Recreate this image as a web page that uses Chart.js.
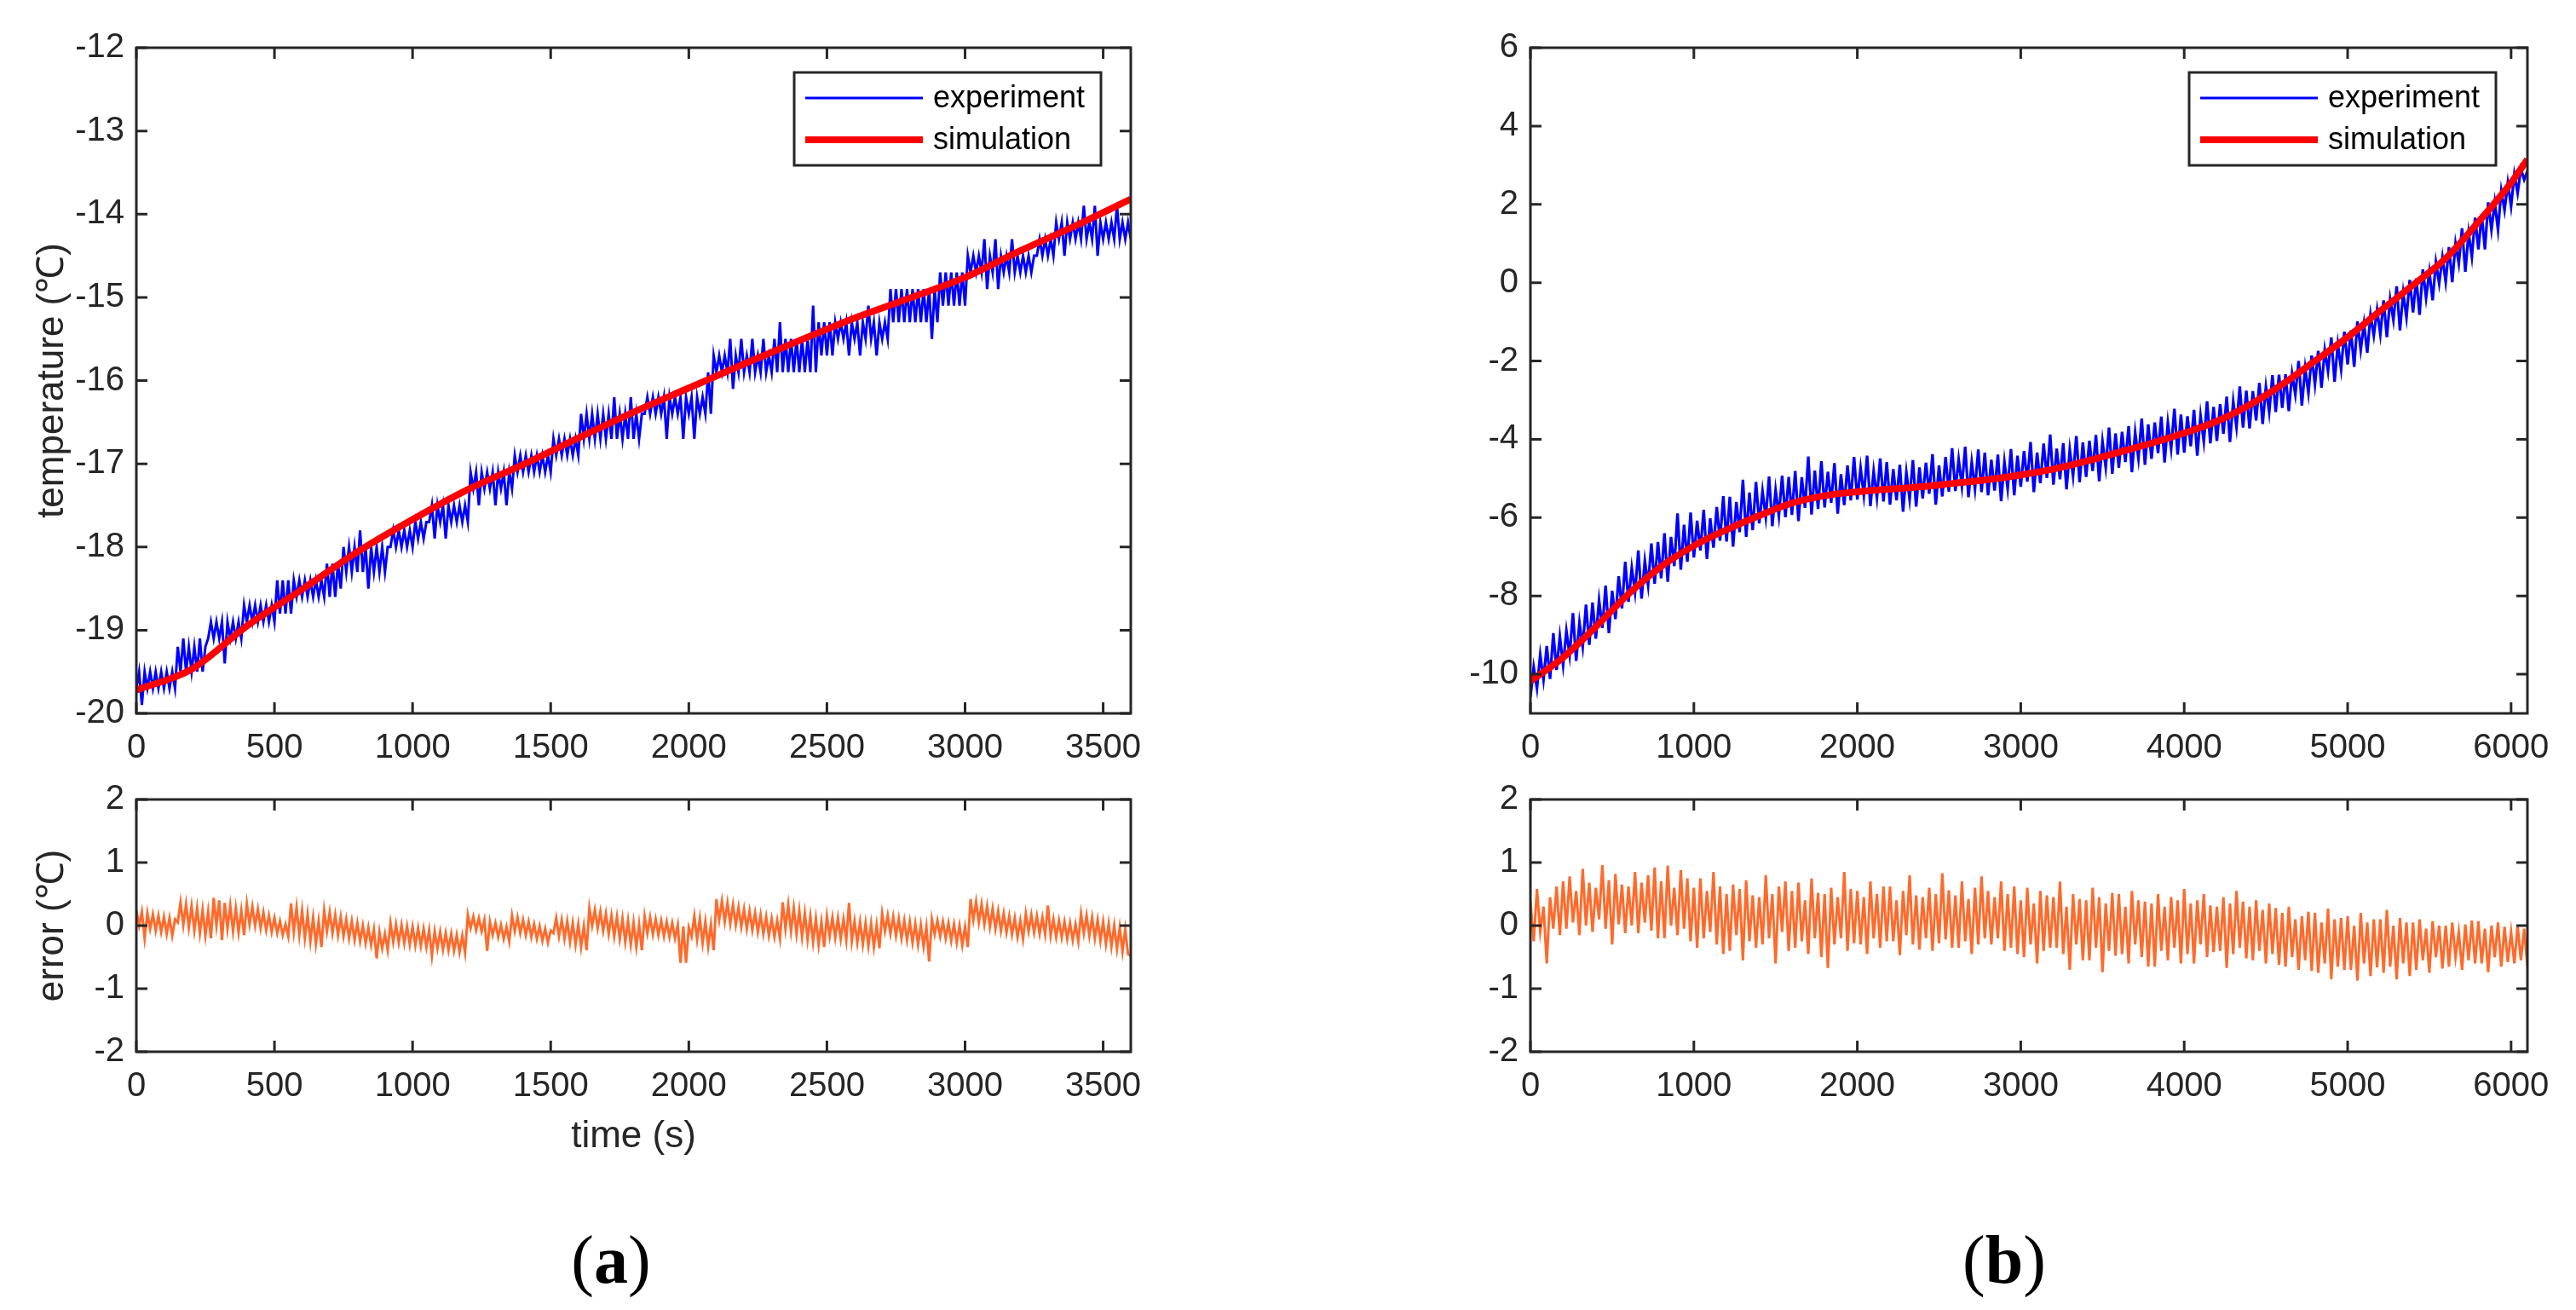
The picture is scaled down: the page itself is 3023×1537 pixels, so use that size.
<!DOCTYPE html>
<html>
<head>
<meta charset="utf-8">
<script src="https://cdn.jsdelivr.net/npm/chart.js@4.4.1/dist/chart.umd.min.js"></script>
<style>
html,body{margin:0;padding:0;background:#fff;}
body{width:3023px;height:1537px;position:relative;overflow:hidden;}
canvas{position:absolute;display:block;}
.cap{position:absolute;width:200px;text-align:center;font-family:"Liberation Serif","Times New Roman",serif;font-size:80px;line-height:1;color:#000;}
</style>
</head>
<body>
<canvas id="aTop"></canvas>
<canvas id="aBot"></canvas>
<canvas id="bTop"></canvas>
<canvas id="bBot"></canvas>
<div class="cap" style="left:617px;top:1438px;">(<b>a</b>)</div>
<div class="cap" style="left:2252px;top:1438px;">(<b>b</b>)</div>
<script>
// ---------------- data ----------------
const xTicksA = [0, 500, 1000, 1500, 2000, 2500, 3000, 3500];
const xTicksB = [0, 1000, 2000, 3000, 4000, 5000, 6000];
const yTicksTempA = [-20, -19, -18, -17, -16, -15, -14, -13, -12];
const yTicksTempB = [-10, -8, -6, -4, -2, 0, 2, 4, 6];
const yTicksErr = [-2, -1, 0, 1, 2];
const seriesNames = ['experiment', 'simulation'];

// (a) experiment, one sample every 10 s, 0..3600 s
const stepExpA = 10;
const expA = [
 -19.7,-19.5,-19.9,-19.5,-19.7,-19.5,-19.7,-19.5,-19.7,-19.5,-19.7,-19.5,-19.7,-19.5,-19.7,-19.2,-19.5,-19.1,-19.5,-19.2,
 -19.5,-19.2,-19.5,-19.1,-19.5,-19.2,-19.1,-18.9,-19.1,-18.9,-19.1,-18.9,-19.4,-18.9,-19.1,-18.9,-19.1,-18.9,-19.1,-18.7,
 -18.9,-18.7,-18.9,-18.7,-18.9,-18.7,-18.9,-18.7,-18.9,-18.7,-18.9,-18.4,-18.8,-18.4,-18.8,-18.4,-18.8,-18.4,-18.6,-18.4,
 -18.6,-18.4,-18.6,-18.4,-18.6,-18.4,-18.6,-18.4,-18.6,-18.2,-18.6,-18.2,-18.6,-18.2,-18.5,-18.0,-18.3,-18.0,-18.3,-18.0,
 -18.3,-17.8,-18.3,-18.0,-18.5,-18.0,-18.3,-18.0,-18.3,-18.0,-18.3,-18.0,-18.0,-17.8,-18.0,-17.8,-18.0,-17.8,-18.0,-17.8,
 -18.0,-17.7,-17.9,-17.7,-17.9,-17.7,-17.7,-17.5,-17.9,-17.5,-17.7,-17.5,-17.9,-17.5,-17.7,-17.5,-17.7,-17.5,-17.7,-17.5,
 -17.7,-17.1,-17.3,-17.1,-17.5,-17.1,-17.3,-17.1,-17.3,-17.1,-17.5,-17.1,-17.3,-17.1,-17.5,-17.1,-17.3,-16.9,-17.1,-16.9,
 -17.1,-16.9,-17.1,-16.9,-17.1,-16.9,-17.1,-16.9,-17.1,-16.9,-17.1,-16.7,-16.9,-16.7,-16.9,-16.7,-16.9,-16.7,-16.9,-16.7,
 -16.9,-16.4,-16.7,-16.4,-16.7,-16.4,-16.7,-16.4,-16.7,-16.4,-16.7,-16.4,-16.7,-16.2,-16.7,-16.4,-16.7,-16.4,-16.7,-16.2,
 -16.7,-16.4,-16.7,-16.4,-16.4,-16.2,-16.4,-16.2,-16.4,-16.2,-16.4,-16.2,-16.7,-16.2,-16.4,-16.2,-16.4,-16.2,-16.7,-16.2,
 -16.4,-16.2,-16.7,-16.2,-16.4,-16.2,-16.4,-15.9,-16.4,-15.7,-15.9,-15.7,-15.9,-15.7,-15.9,-15.5,-16.1,-15.7,-15.9,-15.5,
 -15.9,-15.7,-15.9,-15.5,-15.9,-15.7,-15.9,-15.5,-15.9,-15.7,-15.9,-15.5,-15.9,-15.3,-15.9,-15.5,-15.9,-15.5,-15.9,-15.5,
 -15.9,-15.5,-15.9,-15.5,-15.9,-15.1,-15.9,-15.3,-15.7,-15.3,-15.7,-15.3,-15.7,-15.3,-15.5,-15.3,-15.5,-15.3,-15.7,-15.3,
 -15.5,-15.3,-15.7,-15.3,-15.5,-15.1,-15.5,-15.3,-15.7,-15.3,-15.5,-15.3,-15.5,-14.9,-15.3,-14.9,-15.3,-14.9,-15.3,-14.9,
 -15.3,-14.9,-15.3,-14.9,-15.3,-14.9,-15.3,-14.9,-15.5,-14.9,-15.3,-14.7,-15.1,-14.7,-15.1,-14.7,-15.1,-14.7,-15.1,-14.7,
 -15.1,-14.5,-14.7,-14.5,-14.7,-14.5,-14.7,-14.3,-14.9,-14.5,-14.7,-14.3,-14.9,-14.5,-14.7,-14.5,-14.7,-14.3,-14.7,-14.5,
 -14.7,-14.5,-14.7,-14.5,-14.7,-14.5,-14.5,-14.3,-14.5,-14.3,-14.5,-14.3,-14.5,-14.1,-14.3,-14.1,-14.5,-14.1,-14.3,-14.1,
 -14.3,-14.1,-14.3,-13.9,-14.3,-14.1,-14.3,-13.9,-14.5,-14.1,-14.3,-14.1,-14.3,-14.1,-14.3,-13.9,-14.3,-14.1,-14.3,-14.1,
 -14.3
];
const simTimesA = [0,200,400,600,800,1000,1200,1400,1600,1800,2000,2200,2400,2600,2800,3000,3200,3400,3600];
const simA = [-19.72,-19.47,-18.95,-18.51,-18.06,-17.67,-17.31,-17.01,-16.69,-16.38,-16.09,-15.80,-15.52,-15.25,-15.01,-14.76,-14.44,-14.14,-13.82];

// (a) error, one sample every 10 s
const stepErrA = 10;
const errA = [
 0.24,0.0,0.22,-0.2,0.20,-0.05,0.18,-0.08,0.16,-0.1,0.14,-0.13,0.12,-0.16,0.10,0.05,0.37,0.01,0.34,-0.03,
 0.31,-0.08,0.28,-0.12,0.25,-0.16,0.22,-0.2,0.44,0.0,0.40,-0.23,0.36,-0.05,0.32,-0.09,0.28,-0.11,0.24,-0.15,
 0.35,0.02,0.30,0.0,0.26,-0.04,0.21,-0.07,0.16,-0.1,0.12,-0.12,0.07,-0.15,0.02,-0.17,0.35,-0.1,0.29,-0.15,
 0.24,-0.2,0.18,-0.25,0.13,-0.29,0.07,-0.34,0.24,-0.09,0.21,-0.12,0.17,-0.15,0.14,-0.17,0.10,-0.2,0.07,-0.23,
 0.04,-0.25,0.0,-0.28,-0.03,-0.31,-0.06,-0.52,-0.1,-0.36,-0.13,-0.39,0.04,-0.26,0.02,-0.27,0.01,-0.28,-0.01,-0.3,
 -0.02,-0.31,-0.04,-0.32,-0.05,-0.34,-0.07,-0.48,-0.09,-0.36,-0.1,-0.38,-0.12,-0.39,-0.13,-0.4,-0.15,-0.42,-0.16,-0.43,
 0.17,-0.04,0.14,-0.07,0.12,-0.09,0.09,-0.4,0.06,-0.15,0.04,-0.18,0.01,-0.21,-0.02,-0.25,0.16,-0.09,0.13,-0.12,
 0.09,-0.15,0.06,-0.18,0.02,-0.21,-0.01,-0.24,-0.05,-0.27,-0.08,-0.12,0.12,-0.17,0.09,-0.21,0.07,-0.26,0.04,-0.3,
 0.02,-0.34,-0.01,-0.39,0.28,0.0,0.25,-0.04,0.22,-0.08,0.19,-0.13,0.16,-0.17,0.14,-0.21,0.11,-0.26,0.08,-0.3,
 0.05,-0.34,0.02,-0.39,0.15,-0.12,0.13,-0.14,0.1,-0.15,0.08,-0.17,0.06,-0.18,0.04,-0.2,0.01,-0.59,-0.01,-0.59,
 -0.03,-0.17,0.15,-0.22,0.11,-0.28,0.06,-0.33,0.02,-0.39,0.42,0.09,0.39,0.06,0.36,0.03,0.33,0.01,0.29,-0.02,
 0.26,-0.05,0.23,-0.07,0.2,-0.1,0.17,-0.13,0.14,-0.16,0.11,-0.18,0.08,-0.21,0.37,-0.05,0.33,-0.09,0.28,-0.13,
 0.24,-0.18,0.2,-0.22,0.15,-0.26,0.11,-0.3,0.06,-0.34,0.15,-0.17,0.13,-0.19,0.12,-0.21,0.1,-0.23,0.36,-0.25,
 0.07,-0.27,0.06,-0.3,0.04,-0.32,0.03,-0.34,0.01,-0.36,0.19,-0.09,0.16,-0.13,0.14,-0.16,0.11,-0.2,0.08,-0.23,
 0.06,-0.27,0.03,-0.3,0.01,-0.33,-0.02,-0.57,0.1,-0.14,0.08,-0.17,0.06,-0.2,0.04,-0.24,0.02,-0.27,0.0,-0.31,
 -0.02,-0.34,0.42,0.09,0.38,0.05,0.34,0.02,0.31,-0.02,0.27,-0.05,0.23,-0.08,0.19,-0.11,0.15,-0.14,0.12,-0.18,
 0.08,-0.21,0.19,-0.09,0.17,-0.11,0.15,-0.13,0.13,-0.14,0.32,-0.16,0.1,-0.18,0.08,-0.19,0.06,-0.21,0.04,-0.23,
 0.02,-0.25,0.19,-0.12,0.16,-0.16,0.13,-0.2,0.09,-0.24,0.06,-0.29,0.03,-0.33,0.0,-0.37,-0.03,-0.41,-0.06,-0.45,
 -0.48
];

// (b) experiment, one sample every 20 s, 0..6100 s
const stepExpB = 20;
const expB = [
 -10.58,-9.82,-10.36,-9.5,-10.14,-9.28,-10.12,-8.95,-9.89,-9.03,
 -9.77,-8.89,-9.51,-8.44,-9.66,-8.68,-9.30,-8.22,-9.25,-8.17,
 -9.09,-8.11,-8.82,-7.74,-8.95,-7.87,-8.59,-7.50,-8.32,-7.13,
 -8.15,-7.28,-7.91,-6.84,-8.07,-7.10,-7.73,-6.66,-7.69,-6.62,
 -7.55,-6.40,-7.64,-6.49,-7.24,-5.89,-7.33,-6.18,-7.13,-5.87,
 -7.02,-6.08,-6.84,-5.80,-7.06,-6.02,-6.77,-5.73,-6.59,-5.45,
 -6.61,-5.47,-6.74,-5.60,-6.37,-5.03,-6.49,-5.36,-6.32,-5.09,
 -6.15,-5.32,-5.99,-4.95,-6.22,-5.29,-5.96,-4.93,-5.99,-4.96,
 -5.93,-4.81,-6.09,-4.97,-5.75,-4.44,-5.92,-4.80,-5.78,-4.56,
 -5.74,-4.83,-5.62,-4.61,-5.90,-4.89,-5.68,-4.67,-5.56,-4.45,
 -5.54,-4.73,-5.43,-4.42,-5.71,-4.81,-5.50,-4.49,-5.59,-4.58,
 -5.67,-4.76,-5.56,-4.65,-5.85,-4.84,-5.53,-4.53,-5.72,-4.72,
 -5.51,-4.60,-5.39,-4.38,-5.67,-4.67,-5.46,-4.45,-5.34,-4.23,
 -5.32,-4.51,-5.20,-4.19,-5.48,-4.58,-5.27,-4.26,-5.35,-4.34,
 -5.43,-4.52,-5.31,-4.39,-5.58,-4.57,-5.26,-4.25,-5.43,-4.42,
 -5.21,-4.30,-5.08,-4.07,-5.35,-4.34,-5.12,-4.11,-4.99,-3.88,
 -5.16,-4.24,-5.02,-4.10,-5.28,-4.26,-4.94,-3.92,-5.10,-4.08,
 -4.96,-4.04,-4.81,-3.89,-5.07,-4.05,-4.72,-3.70,-4.88,-3.85,
 -4.73,-3.81,-4.58,-3.66,-4.84,-3.82,-4.49,-3.47,-4.65,-3.62,
 -4.50,-3.57,-4.35,-3.42,-4.59,-3.57,-4.24,-3.22,-4.39,-3.37,
 -4.34,-3.41,-4.18,-3.25,-4.42,-3.39,-4.06,-3.03,-4.10,-3.17,
 -4.04,-3.10,-3.86,-2.91,-4.07,-3.03,-3.69,-2.65,-3.70,-2.76,
 -3.72,-2.77,-3.52,-2.56,-3.61,-2.66,-3.31,-2.36,-3.30,-2.35,
 -3.20,-2.34,-3.28,-2.32,-2.86,-2.00,-3.14,-2.18,-2.82,-1.86,
 -2.60,-1.74,-2.68,-1.72,-2.26,-1.40,-2.53,-1.57,-2.21,-1.25,
 -2.09,-1.22,-2.15,-0.99,-1.72,-1.05,-1.79,-0.82,-1.35,-0.69,
 -1.32,-0.45,-1.39,-0.42,-0.96,-0.09,-1.22,-0.26,-0.89,0.07,
 -0.76,0.11,-0.82,0.34,-0.39,0.28,-0.45,0.52,-0.02,0.65,
 0.02,0.91,0.01,1.00,0.49,1.39,0.28,1.27,0.66,1.66,
 0.85,1.75,0.85,2.05,1.35,2.05,1.35,2.35,1.85,2.55,
 1.95,2.77,2.29,2.91,2.63,2.85
];
const simTimesB = [0,200,400,600,800,1000,1200,1400,1600,1800,2000,2200,2400,2600,2800,3000,3200,3400,3600,3800,4000,4200,4400,4600,4800,5000,5200,5400,5600,5800,6000,6100];
const simB = [-10.18,-9.57,-8.79,-7.95,-7.25,-6.72,-6.31,-5.95,-5.63,-5.44,-5.34,-5.27,-5.21,-5.12,-5.03,-4.91,-4.76,-4.56,-4.33,-4.10,-3.84,-3.54,-3.12,-2.60,-2.00,-1.39,-0.72,-0.06,0.62,1.55,2.55,3.15];

// (b) error, one sample every 20 s
const stepErrB = 20;
const errB = [
 0.38,-0.25,0.58,-0.1,0.3,-0.6,0.45,-0.05,0.62,-0.15,
 0.7,-0.05,0.78,0.05,0.55,-0.15,0.9,0.0,0.68,-0.1,
 0.6,0.1,0.96,-0.05,0.72,-0.3,0.82,0.02,0.65,-0.12,
 0.62,0.0,0.85,-0.12,0.68,0.05,0.8,-0.08,0.92,-0.2,
 0.7,-0.2,0.95,0.0,0.6,-0.15,0.88,-0.05,0.75,-0.25,
 0.6,-0.35,0.75,-0.2,0.55,-0.1,0.85,-0.3,0.62,-0.45,
 0.5,-0.4,0.65,-0.15,0.58,-0.55,0.72,-0.25,0.48,-0.35,
 0.45,-0.3,0.8,-0.2,0.5,-0.6,0.62,-0.1,0.7,-0.4,
 0.55,-0.35,0.68,-0.25,0.4,-0.45,0.75,-0.2,0.52,-0.5,
 0.5,-0.67,0.6,-0.3,0.45,-0.2,0.85,-0.4,0.58,-0.28,
 0.55,-0.3,0.45,-0.45,0.7,-0.2,0.5,-0.35,0.62,-0.25,
 0.62,-0.25,0.4,-0.47,0.55,-0.15,0.8,-0.3,0.48,-0.38,
 0.45,-0.2,0.6,-0.4,0.5,-0.28,0.83,-0.22,0.56,-0.35,
 0.48,-0.35,0.7,-0.25,0.42,-0.45,0.6,-0.3,0.78,-0.2,
 0.55,-0.3,0.45,-0.2,0.7,-0.4,0.5,-0.35,0.62,-0.45,
 0.4,-0.5,0.6,-0.3,0.35,-0.6,0.55,-0.4,0.48,-0.35,
 0.45,-0.35,0.7,-0.45,0.3,-0.7,0.5,-0.3,0.42,-0.55,
 0.4,-0.55,0.6,-0.35,0.45,-0.74,0.35,-0.4,0.52,-0.48,
 0.5,-0.45,0.3,-0.6,0.55,-0.3,0.4,-0.5,0.38,-0.65,
 0.35,-0.65,0.5,-0.4,0.3,-0.55,0.45,-0.35,0.4,-0.6,
 0.58,-0.45,0.35,-0.6,0.4,-0.3,0.5,-0.5,0.32,-0.42,
 0.3,-0.4,0.45,-0.67,0.35,-0.45,0.55,-0.35,0.38,-0.52,
 0.3,-0.55,0.4,-0.4,0.25,-0.6,0.35,-0.45,0.28,-0.62,
 0.2,-0.65,0.3,-0.5,0.1,-0.7,0.15,-0.55,0.22,-0.72,
 0.2,-0.75,0.05,-0.6,0.27,-0.85,0.1,-0.65,0.12,-0.7,
 0.15,-0.7,0.0,-0.87,0.2,-0.6,0.05,-0.8,0.1,-0.66,
 0.1,-0.75,0.25,-0.65,0.0,-0.85,0.12,-0.6,0.05,-0.8,
 0.05,-0.7,0.1,-0.55,-0.05,-0.75,0.07,-0.5,0.0,-0.68,
 0.0,-0.65,0.05,-0.5,-0.1,-0.7,0.02,-0.55,0.08,-0.6,
 0.07,-0.6,-0.05,-0.74,0.0,-0.5,0.05,-0.65,-0.02,-0.58,
 -0.1,-0.6,0.0,-0.55,-0.05,-0.65
];

// ---------------- helpers ----------------
const FONT = '"Liberation Sans", Arial, Helvetica, sans-serif';
const AXIS = '#262626';
const BLUE = '#0000ff', RED = '#ff0000', ORANGE = '#ff6a2b';

const sampled = (vals, step) => vals.map((v, i) => ({x: i * step, y: v}));
const paired = (xs, ys) => xs.map((x, i) => ({x: x, y: ys[i]}));

const framePlugin = {
  id: 'frame',
  afterDatasetsDraw(chart) {
    const {ctx, chartArea: a, scales: {x, y}} = chart;
    const L = 13;
    ctx.save();
    ctx.strokeStyle = AXIS;
    ctx.lineWidth = 3;
    ctx.beginPath();
    x.ticks.forEach(t => {
      const px = x.getPixelForValue(t.value);
      ctx.moveTo(px, a.bottom); ctx.lineTo(px, a.bottom - L);
      ctx.moveTo(px, a.top); ctx.lineTo(px, a.top + L);
    });
    y.ticks.forEach(t => {
      const py = y.getPixelForValue(t.value);
      ctx.moveTo(a.left, py); ctx.lineTo(a.left + L, py);
      ctx.moveTo(a.right, py); ctx.lineTo(a.right - L, py);
    });
    ctx.stroke();
    ctx.strokeRect(a.left, a.top, a.right - a.left, a.bottom - a.top);
    ctx.restore();
  }
};

const boxLegendPlugin = {
  id: 'boxLegend',
  afterDraw(chart, args, opts) {
    if (!opts || !opts.show) return;
    const {ctx, chartArea: a} = chart;
    const w = 360, h = 109;
    const x0 = a.right - opts.inset - w, y0 = a.top + 29;
    ctx.save();
    ctx.fillStyle = '#fff';
    ctx.fillRect(x0, y0, w, h);
    ctx.lineWidth = 3;
    ctx.strokeStyle = AXIS;
    ctx.strokeRect(x0, y0, w, h);
    chart.data.datasets.forEach((ds, i) => {
      const yy = y0 + 30 + i * 49;
      ctx.beginPath();
      ctx.strokeStyle = ds.borderColor;
      ctx.lineWidth = ds.legendWidth || ds.borderWidth;
      ctx.moveTo(x0 + 13, yy); ctx.lineTo(x0 + 151, yy);
      ctx.stroke();
      ctx.fillStyle = '#000';
      ctx.font = '36px ' + FONT;
      ctx.textAlign = 'left';
      ctx.textBaseline = 'middle';
      ctx.fillText(ds.label, x0 + 163, yy + 1);
    });
    ctx.restore();
  }
};

function makeChart(id, pos, opt) {
  const cv = document.getElementById(id);
  cv.width = pos.w; cv.height = pos.h;
  cv.style.left = pos.left + 'px'; cv.style.top = pos.top + 'px';
  cv.style.width = pos.w + 'px'; cv.style.height = pos.h + 'px';
  const tickFont = {family: FONT, size: 40};
  const titleFont = {family: FONT, size: 44};
  return new Chart(cv.getContext('2d'), {
    type: 'line',
    data: {datasets: opt.datasets},
    options: {
      responsive: false,
      animation: false,
      devicePixelRatio: 1,
      events: [],
      layout: {padding: {left: 0, top: opt.padTop, right: opt.padRight, bottom: 0}},
      plugins: {legend: {display: false}, tooltip: {enabled: false},
                boxLegend: {show: !!opt.legend, inset: opt.legendInset || 35}},
      elements: {point: {radius: 0}},
      scales: {
        x: {
          type: 'linear', position: 'bottom', min: opt.xMin, max: opt.xMax,
          afterBuildTicks: s => { s.ticks = opt.xTicks.map(v => ({value: v})); },
          afterFit: s => { s.height = opt.xH; },
          grid: {display: false, drawTicks: false}, border: {display: false},
          ticks: {font: tickFont, color: AXIS, padding: 17, maxRotation: 0, autoSkip: false,
                  callback: v => String(v)},
          title: opt.xTitle ? {display: true, text: opt.xTitle, font: titleFont, color: AXIS,
                  padding: {top: 0, bottom: 20}} : {display: false}
        },
        y: {
          type: 'linear', position: 'left', min: opt.yMin, max: opt.yMax,
          afterBuildTicks: s => { s.ticks = opt.yTicks.map(v => ({value: v})); },
          afterFit: s => { s.width = opt.yW; },
          grid: {display: false, drawTicks: false}, border: {display: false},
          ticks: {font: tickFont, color: AXIS, padding: 14, autoSkip: false,
                  callback: v => String(v)},
          title: opt.yTitle ? {display: true, text: opt.yTitle, font: titleFont, color: AXIS,
                  padding: {top: 35, bottom: 0}} : {display: false}
        }
      }
    },
    plugins: [framePlugin, boxLegendPlugin]
  });
}

// ---------------- charts ----------------
makeChart('aTop', {left: 0, top: 0, w: 1400, h: 900}, {
  padTop: 56, padRight: 73, yW: 160, xH: 63,
  xMin: 0, xMax: 3600, xTicks: xTicksA,
  yMin: -20, yMax: -12, yTicks: yTicksTempA,
  yTitle: 'temperature (\u2103)', legend: true, legendInset: 35,
  datasets: [
    {label: seriesNames[0], data: sampled(expA, stepExpA), borderColor: BLUE, borderWidth: 3,
     legendWidth: 3, tension: 0, order: 1},
    {label: seriesNames[1], data: paired(simTimesA, simA), borderColor: RED, borderWidth: 8,
     cubicInterpolationMode: 'monotone', order: 0}
  ]
});

makeChart('aBot', {left: 0, top: 900, w: 1400, h: 480}, {
  padTop: 35, padRight: 73, yW: 160, xH: 146,
  xMin: 0, xMax: 3600, xTicks: xTicksA,
  yMin: -2, yMax: 2, yTicks: yTicksErr,
  yTitle: 'error (\u2103)', xTitle: 'time (s)',
  datasets: [
    {label: 'error', data: sampled(errA, stepErrA), borderColor: ORANGE, borderWidth: 3, tension: 0}
  ]
});

makeChart('bTop', {left: 1640, top: 0, w: 1383, h: 900}, {
  padTop: 56, padRight: 57, yW: 156, xH: 63,
  xMin: 0, xMax: 6100, xTicks: xTicksB,
  yMin: -11, yMax: 6, yTicks: yTicksTempB,
  legend: true, legendInset: 37,
  datasets: [
    {label: seriesNames[0], data: sampled(expB, stepExpB), borderColor: BLUE, borderWidth: 3.2,
     legendWidth: 3, tension: 0, order: 1},
    {label: seriesNames[1], data: paired(simTimesB, simB), borderColor: RED, borderWidth: 8,
     cubicInterpolationMode: 'monotone', order: 0}
  ]
});

makeChart('bBot', {left: 1640, top: 900, w: 1383, h: 480}, {
  padTop: 35, padRight: 57, yW: 156, xH: 146,
  xMin: 0, xMax: 6100, xTicks: xTicksB,
  yMin: -2, yMax: 2, yTicks: yTicksErr,
  datasets: [
    {label: 'error', data: sampled(errB, stepErrB), borderColor: ORANGE, borderWidth: 3, tension: 0}
  ]
});
</script>
</body>
</html>
